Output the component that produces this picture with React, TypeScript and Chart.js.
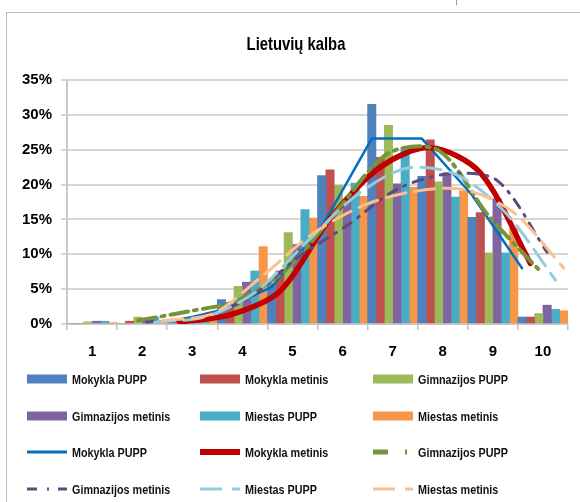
import React, { useEffect, useRef } from 'react';
import { Chart, registerables } from 'chart.js';

Chart.register(...registerables);

const categories = ['1', '2', '3', '4', '5', '6', '7', '8', '9', '10'];
const yTickValues = [0, 5, 10, 15, 20, 25, 30, 35];

const barNames = ['Mokykla PUPP', 'Mokykla metinis', 'Gimnazijos PUPP', 'Gimnazijos metinis', 'Miestas PUPP', 'Miestas metinis'];
const lineNames = ['Mokykla PUPP', 'Mokykla metinis', 'Gimnazijos PUPP', 'Gimnazijos metinis', 'Miestas PUPP', 'Miestas metinis'];

// bar series (%)
const mokyklaPuppBars = [0, 0, 0.3, 3.5, 5.8, 21.3, 31.5, 21.2, 15.3, 1.0];
const mokyklaMetinisBars = [0, 0.4, 0.5, 2.5, 7.6, 22.1, 23.9, 26.4, 16.0, 1.0];
const gimnazijosPuppBars = [0.3, 1.0, 1.0, 5.4, 13.1, 19.9, 28.5, 20.4, 10.2, 1.5];
const gimnazijosMetinisBars = [0.4, 0.5, 0.8, 6.0, 11.4, 17.5, 20.1, 21.7, 18.0, 2.7];
const miestasPuppBars = [0.4, 1.0, 1.0, 7.6, 16.4, 20.2, 25.3, 18.2, 10.2, 2.1];
const miestasMetinisBars = [0.2, 0.5, 0.6, 11.1, 15.2, 18.3, 19.6, 19.1, 13.7, 1.9];

// line series (%), null = no point
const mokyklaPuppLine = [null, null, 0.3, 2.0, 5.3, 13.9, 26.6, 26.6, 18.5, 8.0];
const mokyklaMetinisLine = [null, null, 0.3, 1.3, 4.7, 15.1, 22.5, 25.3, 21.7, 8.7];
const gimnazijosPuppLine = [null, 0.5, 1.8, 3.4, 8.1, 16.5, 24.5, 24.9, 15.5, 7.8];
const gimnazijosMetinisLine = [null, 0.3, 1.0, 3.5, 9.4, 14.1, 19.3, 21.5, 20.6, 10.3];
const miestasPuppLine = [null, 0.3, 1.0, 4.5, 11.5, 18.3, 22.3, 21.5, 16.0, 6.3];
const miestasMetinisLine = [null, 0.5, 1.5, 7.0, 13.0, 17.0, 19.0, 19.3, 16.0, 8.0];

const barSeries = [mokyklaPuppBars, mokyklaMetinisBars, gimnazijosPuppBars, gimnazijosMetinisBars, miestasPuppBars, miestasMetinisBars];
const lineSeries = [mokyklaPuppLine, mokyklaMetinisLine, gimnazijosPuppLine, gimnazijosMetinisLine, miestasPuppLine, miestasMetinisLine];

const barColors = ['#4F81BD', '#C0504D', '#9BBB59', '#8064A2', '#4BACC6', '#F79646'];
const lineColors = ['#0070C0', '#C00000', '#77933C', '#604A7B', '#93CDDD', '#FAC090'];
const lineWidths = [2.5, 5.5, 4, 3, 3, 3];
const lineDashes: number[][] = [[], [], [18, 6, 3, 6], [10, 8, 2, 8], [20, 9], [20, 9]];
const lineTensions = [0, 0.3, 0.3, 0.3, 0.3, 0.3];

const FONT = "'Liberation Sans', Arial, sans-serif";

function Swatch({ kind, idx }: { kind: 'bar' | 'line'; idx: number }) {
  if (kind === 'bar') {
    return (
      <svg width={41} height={14} style={{ display: 'block', flex: 'none' }}>
        <rect x={0} y={2.5} width={40} height={9} fill={barColors[idx]} />
      </svg>
    );
  }
  const dashArrays = ['', '', '15 17 2 20', '10 10 2 9 10 10', '22 10 30', '22 10 30'];
  const widths = [3, 6, 5, 3, 3, 3];
  return (
    <svg width={41} height={14} style={{ display: 'block', flex: 'none' }}>
      <line
        x1={0}
        y1={7}
        x2={40}
        y2={7}
        stroke={lineColors[idx]}
        strokeWidth={widths[idx]}
        strokeDasharray={dashArrays[idx] || undefined}
      />
    </svg>
  );
}

export default function App() {
  const canvasRef = useRef<HTMLCanvasElement | null>(null);

  useEffect(() => {
    if (!canvasRef.current) return;
    // position of series k inside a category group, in category units
    const offset = (k: number) => -0.5 + (k + 0.5) / 6;

    const datasets: any[] = [];
    lineSeries.forEach((vals, k) => {
      datasets.push({
        type: 'line',
        label: lineNames[k],
        data: vals.map((v, i) => ({ x: i + 1 + offset(k), y: v })),
        borderColor: lineColors[k],
        backgroundColor: lineColors[k],
        borderWidth: lineWidths[k],
        borderDash: lineDashes[k],
        borderCapStyle: 'round',
        borderJoinStyle: 'round',
        tension: lineTensions[k],
        pointRadius: 0,
        fill: false,
        xAxisID: 'x2',
        yAxisID: 'y',
        order: 10 - k,
      });
    });
    barSeries.forEach((vals, k) => {
      datasets.push({
        type: 'bar',
        label: barNames[k],
        data: vals.map((v, i) => ({ x: i + 1 + offset(k), y: v })),
        backgroundColor: barColors[k],
        borderWidth: 0,
        grouped: false,
        barPercentage: 1,
        categoryPercentage: 1,
        xAxisID: 'x2',
        yAxisID: 'y',
        order: 20,
      });
    });

    const chart = new Chart(canvasRef.current, {
      type: 'bar',
      data: { labels: categories, datasets },
      options: {
        animation: false,
        responsive: false,
        layout: { padding: { top: 80, left: 0, right: 12, bottom: 138 } },
        plugins: {
          legend: { display: false },
          title: { display: false },
          tooltip: { enabled: false },
        },
        scales: {
          x: {
            type: 'category',
            labels: categories,
            offset: true,
            grid: {
              offset: true,
              drawOnChartArea: false,
              drawTicks: true,
              tickLength: 6,
              color: '#bfbfbf',
              lineWidth: 1.5,
            },
            border: { display: true, color: '#c8c8c8', width: 2 },
            ticks: {
              color: '#000',
              padding: 13,
              font: { family: FONT, size: 15, weight: 'bold' },
            },
            afterFit: (scale: any) => {
              scale.height = 40;
            },
          },
          x2: {
            type: 'linear',
            min: 0.5,
            max: 10.5,
            offset: false,
            bounds: 'data',
            grid: { offset: false },
            display: false,
          },
          y: {
            min: 0,
            max: 35,
            afterBuildTicks: (scale: any) => {
              scale.ticks = yTickValues.map((v) => ({ value: v }));
            },
            grid: {
              color: '#d6d6d6',
              lineWidth: 2,
              drawTicks: true,
              tickLength: 6,
            },
            border: { display: true, color: '#c8c8c8', width: 2 },
            ticks: {
              color: '#000',
              padding: 9,
              font: { family: FONT, size: 15, weight: 'bold' },
              callback: (v: any) => `${v}%`,
            },
            afterFit: (scale: any) => {
              scale.width = 67;
            },
          },
        },
      } as any,
    });
    return () => chart.destroy();
  }, []);

  const colX = [27, 200, 373];
  const rowY = [379, 416, 452, 489];
  const legendItems: { kind: 'bar' | 'line'; idx: number; label: string }[] = [];
  barNames.forEach((n, i) => legendItems.push({ kind: 'bar', idx: i, label: n }));
  lineNames.forEach((n, i) => legendItems.push({ kind: 'line', idx: i, label: n }));

  return (
    <div style={{ position: 'relative', width: 580, height: 502, overflow: 'hidden', background: '#fff' }}>
      <style>{`body{margin:0;}`}</style>
      <div
        style={{
          position: 'absolute',
          left: 6,
          top: 12,
          width: 600,
          height: 520,
          border: '1px solid #bdbdbd',
          boxSizing: 'border-box',
        }}
      />
      <div style={{ position: 'absolute', left: 456, top: 0, width: 1, height: 5, background: '#9a9a9a' }} />
      <canvas ref={canvasRef} width={580} height={502} style={{ position: 'absolute', left: 0, top: 0 }} />
      <div
        style={{
          position: 'absolute',
          left: 296,
          top: 33,
          transform: 'translateX(-50%) scaleX(0.78)',
          whiteSpace: 'nowrap',
          fontFamily: FONT,
          fontWeight: 'bold',
          fontSize: 19,
          lineHeight: '22px',
          color: '#000',
        }}
      >
        Lietuvių kalba
      </div>
      {legendItems.map((it, j) => {
        const r = Math.floor(j / 3);
        const c = j % 3;
        return (
          <div
            key={j}
            style={{
              position: 'absolute',
              left: colX[c],
              top: rowY[r] - 8,
              height: 16,
              display: 'flex',
              alignItems: 'center',
              whiteSpace: 'nowrap',
            }}
          >
            <Swatch kind={it.kind} idx={it.idx} />
            <span
              style={{
                marginLeft: 4,
                display: 'inline-block',
                transform: 'scaleX(0.83)',
                transformOrigin: 'left center',
                fontFamily: FONT,
                fontWeight: 'bold',
                fontSize: 13,
                color: '#111',
              }}
            >
              {it.label}
            </span>
          </div>
        );
      })}
    </div>
  );
}
